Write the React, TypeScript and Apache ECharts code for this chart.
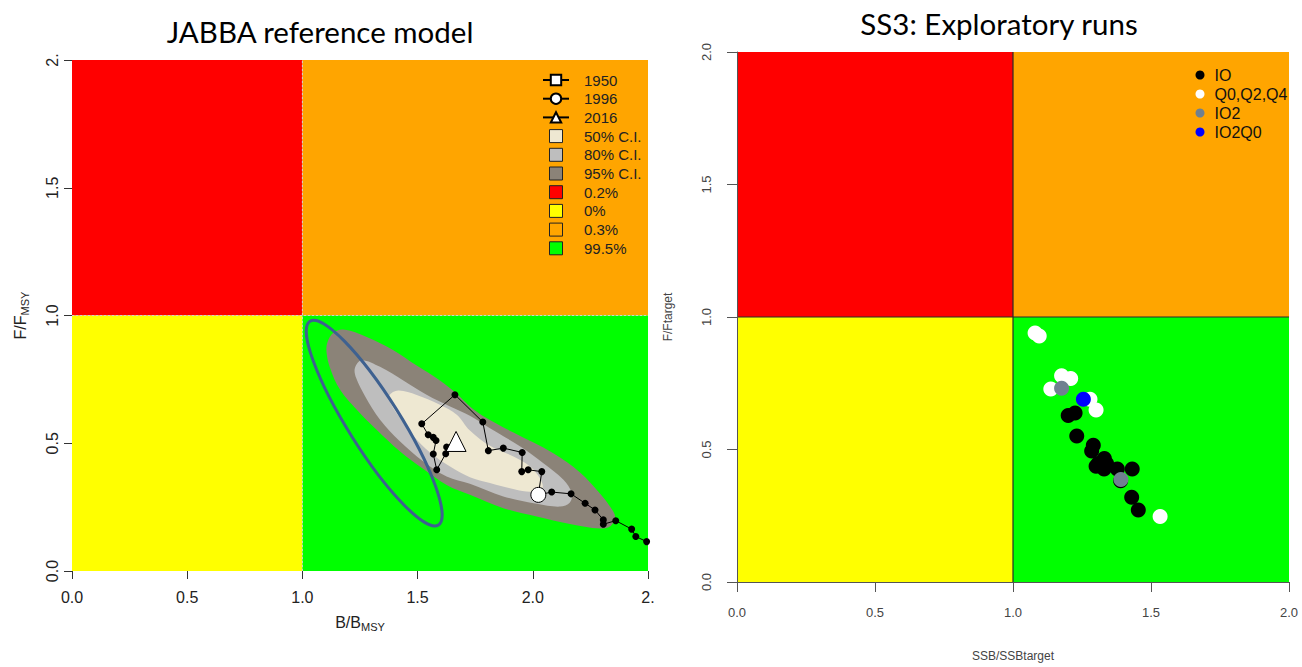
import React, { useEffect, useRef } from "react";
import * as echarts from "echarts";

// ---------- Left panel: JABBA reference model ----------
const jabbaXTickLabels = ["0.0", "0.5", "1.0", "1.5", "2.0", "2."];
const jabbaYTickLabels = ["0.0", "0.5", "1.0", "1.5", "2."];
const jabbaQuadNames = ["0.2%", "0%", "0.3%", "99.5%"];
// [Bmin, Fmin, Bmax, Fmax]
const jabbaQuadBounds = [
  [0, 1, 1, 2],
  [0, 0, 1, 1],
  [1, 1, 2.5, 2],
  [1, 0, 2.5, 1],
];
const quadColors = ["#FF0000", "#FFFF00", "#FFA500", "#00FF00"];

// Kernel-density credible regions (B/Bmsy, F/Fmsy)
const ci95 = [
  [1.108, 0.893], [1.134, 0.932], [1.178, 0.945], [1.279, 0.916], [1.395, 0.864],
  [1.496, 0.804], [1.597, 0.746], [1.67, 0.694], [1.727, 0.644], [1.782, 0.608],
  [1.916, 0.542], [2.089, 0.461], [2.205, 0.386], [2.284, 0.311], [2.335, 0.252],
  [2.357, 0.213], [2.338, 0.176], [2.292, 0.166], [2.161, 0.184], [2.017, 0.213],
  [1.872, 0.246], [1.727, 0.298], [1.626, 0.337], [1.525, 0.399], [1.424, 0.468],
  [1.322, 0.553], [1.236, 0.631], [1.163, 0.71], [1.12, 0.795], [1.105, 0.854],
];
const ci80 = [
  [1.228, 0.795], [1.257, 0.825], [1.337, 0.799], [1.438, 0.746], [1.539, 0.69],
  [1.641, 0.644], [1.727, 0.608], [1.814, 0.559], [1.944, 0.488], [2.046, 0.422],
  [2.133, 0.357], [2.169, 0.305], [2.161, 0.268], [2.118, 0.252], [2.017, 0.263],
  [1.872, 0.292], [1.727, 0.341], [1.626, 0.37], [1.525, 0.429], [1.424, 0.507],
  [1.337, 0.592], [1.272, 0.684], [1.233, 0.756],
];
const ci50 = [
  [1.377, 0.686], [1.416, 0.706], [1.496, 0.689], [1.597, 0.651], [1.67, 0.612],
  [1.727, 0.55], [1.814, 0.49], [1.916, 0.448], [1.988, 0.409], [2.031, 0.363],
  [2.043, 0.328], [2.02, 0.311], [1.973, 0.311], [1.901, 0.324], [1.814, 0.344],
  [1.727, 0.367], [1.641, 0.409], [1.554, 0.464], [1.481, 0.529], [1.424, 0.599],
  [1.386, 0.651],
];
// ellipse: centre (B,F), end of major axis (B,F), end of minor axis (B,F)
const ssEllipse = [1.3116, 0.579, 1.033, 0.978, 1.407, 0.634];

// Stock trajectory, oldest visible year first, ending at 2016
const trajB = [
  2.494, 2.447, 2.429, 2.36, 2.306, 2.306, 2.27, 2.227, 2.166, 2.082, 2.024,
  2.039, 1.98, 1.952, 1.954, 1.872, 1.807, 1.783, 1.662, 1.518, 1.546, 1.568,
  1.58, 1.568, 1.583, 1.622, 1.626, 1.667,
];
const trajF = [
  0.115, 0.135, 0.164, 0.197, 0.183, 0.2, 0.239, 0.265, 0.302, 0.309, 0.298,
  0.389, 0.396, 0.389, 0.464, 0.481, 0.471, 0.583, 0.69, 0.576, 0.533, 0.523,
  0.511, 0.458, 0.396, 0.459, 0.485, 0.507,
];
const idx1996 = 10;
const idx2016 = trajB.length - 1;

// ---------- Right panel: SS3 exploratory runs ----------
const ssTickLabels = ["0.0", "0.5", "1.0", "1.5", "2.0"];
const ssQuadBounds = [
  [0, 1, 1, 2],
  [0, 0, 1, 1],
  [1, 1, 2, 2],
  [1, 0, 2, 1],
];
const ioB = [1.2, 1.225, 1.231, 1.291, 1.285, 1.331, 1.309, 1.339, 1.301, 1.33, 1.378, 1.432, 1.39, 1.43, 1.454];
const ioF = [0.628, 0.638, 0.551, 0.516, 0.494, 0.466, 0.447, 0.447, 0.437, 0.426, 0.426, 0.426, 0.382, 0.32, 0.272];
const qB = [1.08, 1.095, 1.176, 1.209, 1.137, 1.279, 1.301, 1.533];
const qF = [0.94, 0.928, 0.778, 0.768, 0.728, 0.69, 0.649, 0.247];
const io2B = [1.176, 1.391];
const io2F = [0.731, 0.387];
const io2q0B = [1.255];
const io2q0F = [0.69];

const zip = (a: number[], b: number[]) => a.map((v, i) => [v, b[i]]);

const AX_FONT = "Liberation Sans";

export default function App() {
  const ref = useRef<HTMLDivElement>(null);

  useEffect(() => {
    if (!ref.current) return;
    const chart = echarts.init(ref.current, undefined, { renderer: "svg" });

    const rectItem = (color: string) => (_p: any, api: any) => {
      const p0 = api.coord([api.value(0), api.value(1)]);
      const p1 = api.coord([api.value(2), api.value(3)]);
      return {
        type: "rect",
        shape: { x: p0[0], y: p1[1], width: p1[0] - p0[0], height: p0[1] - p1[1] },
        style: { fill: color },
      };
    };
    const lineItem = (stroke: string, width: number, dash?: number[]) => (_p: any, api: any) => {
      const p0 = api.coord([api.value(0), api.value(1)]);
      const p1 = api.coord([api.value(2), api.value(3)]);
      return {
        type: "line",
        shape: { x1: p0[0], y1: p0[1], x2: p1[0], y2: p1[1] },
        style: { stroke, lineWidth: width, lineDash: dash },
      };
    };
    const polyItem = (verts: number[][], color: string) => (p: any, api: any) => {
      if (p.dataIndex !== 0) return null;
      return {
        type: "polygon",
        shape: { points: verts.map((v) => api.coord(v)), smooth: 0.35 },
        style: { fill: color },
      };
    };

    const series: any[] = [];
    // left quadrants
    jabbaQuadBounds.forEach((b, i) => {
      series.push({
        type: "custom", name: jabbaQuadNames[i], xAxisIndex: 0, yAxisIndex: 0, z: 1,
        itemStyle: { color: quadColors[i] }, silent: true,
        renderItem: rectItem(quadColors[i]), data: [b],
      });
    });
    series.push({
      type: "custom", xAxisIndex: 0, yAxisIndex: 0, z: 2, silent: true,
      renderItem: lineItem("#d0d0d0", 1, [2, 2]),
      data: [[1, 0, 1, 2], [0, 1, 2.5, 1]],
    });
    const ciColors = { "95% C.I.": "#8B8378", "80% C.I.": "#BEBEBE", "50% C.I.": "#EEE8D2" } as any;
    [["95% C.I.", ci95], ["80% C.I.", ci80], ["50% C.I.", ci50]].forEach(([name, verts]: any) => {
      series.push({
        type: "custom", name, xAxisIndex: 0, yAxisIndex: 0, z: 3, silent: true,
        itemStyle: { color: ciColors[name] },
        renderItem: polyItem(verts, ciColors[name]), data: verts,
      });
    });
    series.push({
      type: "custom", xAxisIndex: 0, yAxisIndex: 0, z: 4, silent: true,
      renderItem: (_p: any, api: any) => {
        const c = api.coord([api.value(0), api.value(1)]);
        const t = api.coord([api.value(2), api.value(3)]);
        const m = api.coord([api.value(4), api.value(5)]);
        const a = Math.hypot(t[0] - c[0], t[1] - c[1]);
        const b = Math.hypot(m[0] - c[0], m[1] - c[1]);
        const rot = Math.atan2(-(t[1] - c[1]), t[0] - c[0]);
        return {
          type: "ellipse", x: c[0], y: c[1], rotation: rot,
          shape: { cx: 0, cy: 0, rx: a, ry: b },
          style: { fill: "none", stroke: "#3E6190", lineWidth: 3 },
        };
      },
      data: [ssEllipse],
    });
    series.push({
      type: "line", name: "trajectory", xAxisIndex: 0, yAxisIndex: 0, z: 5, silent: true,
      data: zip(trajB, trajF), symbol: "circle", symbolSize: 7, showAllSymbol: true,
      itemStyle: { color: "#000" }, lineStyle: { color: "#000", width: 1 }, clip: true,
    });
    const markerSeries = (name: string, symbol: string, size: number, data: number[][]) => ({
      type: "line", name, xAxisIndex: 0, yAxisIndex: 0, z: 6, silent: true,
      data, symbol, symbolSize: size,
      itemStyle: { color: "#fff", borderColor: "#000", borderWidth: 1 },
      lineStyle: { color: "#000", width: 1 },
    });
    series.push(markerSeries("1950", "rect", 10, []));
    series.push(markerSeries("1996", "circle", 15, [[trajB[idx1996], trajF[idx1996]]]));
    series.push(markerSeries("2016", "triangle", 20, [[trajB[idx2016], trajF[idx2016]]]));

    // right quadrants
    ssQuadBounds.forEach((b, i) => {
      series.push({
        type: "custom", xAxisIndex: 1, yAxisIndex: 1, z: 1, silent: true,
        renderItem: rectItem(quadColors[i]), data: [b],
      });
    });
    series.push({
      type: "custom", xAxisIndex: 1, yAxisIndex: 1, z: 2, silent: true,
      renderItem: lineItem("#2b2b2b", 1.2),
      data: [[1, 0, 1, 2], [0, 1, 2, 1]],
    });
    const scat = (name: string, color: string, data: number[][]) => ({
      type: "scatter", name, xAxisIndex: 1, yAxisIndex: 1, z: 5, silent: true,
      symbol: "circle", symbolSize: 15, itemStyle: { color, opacity: 1 }, data,
    });
    series.push(scat("IO", "#000000", zip(ioB, ioF)));
    series.push(scat("Q0,Q2,Q4", "#FFFFFF", zip(qB, qF)));
    series.push(scat("IO2", "#708090", zip(io2B, io2F)));
    series.push(scat("IO2Q0", "#0000FF", zip(io2q0B, io2q0F)));

    const sq = "path://M0,0H10V10H0Z";
    const ciLegend = (name: string, color: string) => ({
      name, icon: sq, itemStyle: { color, borderColor: "#222", borderWidth: 1 },
    });

    chart.setOption({
      animation: false,
      backgroundColor: "#fff",
      title: [
        {
          text: "JABBA reference model", left: 320, top: 14, textAlign: "center", padding: 0,
          textStyle: { fontFamily: "Lato", fontWeight: "normal", fontSize: 29.5, color: "#000", lineHeight: 34 },
        },
        {
          text: "SS3: Exploratory runs", left: 999, top: 6, textAlign: "center", padding: 0,
          textStyle: { fontFamily: "Lato", fontWeight: "normal", fontSize: 29.5, color: "#000", lineHeight: 34 },
        },
      ],
      legend: [
        {
          orient: "vertical", left: 542, top: 72, itemWidth: 26, itemHeight: 13, itemGap: 2.7,
          selectedMode: false, padding: 0,
          textStyle: { fontFamily: AX_FONT, fontSize: 15, color: "#222", lineHeight: 16, padding: [0, 0, 0, 10] },
          data: [
            { name: "1950" }, { name: "1996" }, { name: "2016" },
            ciLegend("50% C.I.", "#EEE8D2"), ciLegend("80% C.I.", "#BEBEBE"), ciLegend("95% C.I.", "#8B8378"),
            ciLegend("0.2%", "#FF0000"), ciLegend("0%", "#FFFF00"), ciLegend("0.3%", "#FFA500"), ciLegend("99.5%", "#00FF00"),
          ],
        },
        {
          orient: "vertical", left: 1195.5, top: 66, itemWidth: 9, itemHeight: 9, itemGap: 1,
          icon: "circle", selectedMode: false, padding: 0,
          textStyle: { fontFamily: AX_FONT, fontSize: 16, color: "#111", lineHeight: 18, padding: [0, 0, 0, 5] },
          data: ["IO", "Q0,Q2,Q4", "IO2", "IO2Q0"],
        },
      ],
      grid: [
        { left: 72, top: 60, width: 576, height: 511 },
        { left: 737, top: 52, width: 552, height: 534 },
      ],
      xAxis: [
        {
          type: "value", gridIndex: 0, min: 0, max: 2.5, interval: 0.5,
          axisLine: { show: false }, splitLine: { show: false },
          axisTick: { show: true, length: 8, lineStyle: { color: "#333" } },
          axisLabel: {
            fontFamily: AX_FONT, fontSize: 16, color: "#222", margin: 18,
            formatter: (_v: number, i: number) => jabbaXTickLabels[i],
          },
          name: "B/B{s|MSY}", nameLocation: "middle", nameGap: 42,
          nameTextStyle: {
            fontFamily: AX_FONT, fontSize: 16, color: "#222",
            rich: { s: { fontFamily: AX_FONT, fontSize: 11, color: "#222", padding: [8, 0, 0, 0] } },
          },
        },
        {
          type: "value", gridIndex: 1, min: 0, max: 2, interval: 0.5, z: 6,
          axisLine: { show: true, lineStyle: { color: "#555", width: 1 } }, splitLine: { show: false },
          axisTick: { show: true, length: 10, lineStyle: { color: "#555" } },
          axisLabel: {
            fontFamily: AX_FONT, fontSize: 13, color: "#444", margin: 24,
            formatter: (_v: number, i: number) => ssTickLabels[i],
          },
          name: "SSB/SSBtarget", nameLocation: "middle", nameGap: 68,
          nameTextStyle: { fontFamily: AX_FONT, fontSize: 12, color: "#444" },
        },
      ],
      yAxis: [
        {
          type: "value", gridIndex: 0, min: 0, max: 2, interval: 0.5,
          axisLine: { show: false }, splitLine: { show: false },
          axisTick: { show: true, length: 8, lineStyle: { color: "#333" } },
          axisLabel: {
            fontFamily: AX_FONT, fontSize: 16, color: "#222", margin: 12, rotate: 90,
            formatter: (_v: number, i: number) => jabbaYTickLabels[i],
          },
          name: "F/F{s|MSY}", nameLocation: "middle", nameGap: 42, nameRotate: 90,
          nameTextStyle: {
            fontFamily: AX_FONT, fontSize: 16, color: "#222",
            rich: { s: { fontFamily: AX_FONT, fontSize: 11, color: "#222", padding: [8, 0, 0, 0] } },
          },
        },
        {
          type: "value", gridIndex: 1, min: 0, max: 2, interval: 0.5, z: 6,
          axisLine: { show: true, lineStyle: { color: "#555", width: 1 } }, splitLine: { show: false },
          axisTick: { show: true, length: 10, lineStyle: { color: "#555" } },
          axisLabel: {
            fontFamily: AX_FONT, fontSize: 13, color: "#444", margin: 24, rotate: 90,
            formatter: (_v: number, i: number) => ssTickLabels[i],
          },
          name: "F/Ftarget", nameLocation: "middle", nameGap: 63, nameRotate: 90,
          nameTextStyle: { fontFamily: AX_FONT, fontSize: 12, color: "#444" },
        },
      ],
      graphic: [
        { type: "rect", shape: { x: 1290, y: 55, width: 12, height: 110 }, style: { fill: "#fff" }, z: 100 },
      ],
      series,
    });

    return () => chart.dispose();
  }, []);

  return (
    <div
      ref={ref}
      style={{ position: "fixed", left: 0, top: 0, width: 1302, height: 667, background: "#fff" }}
    />
  );
}
